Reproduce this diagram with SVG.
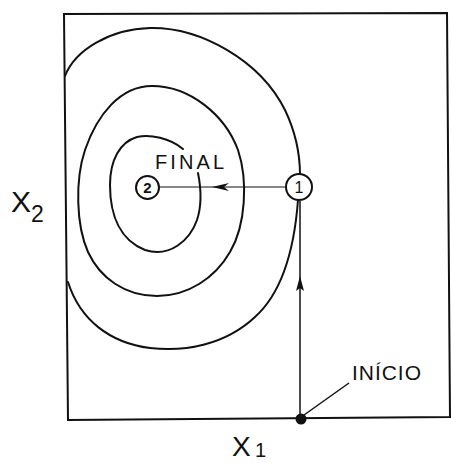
<svg xmlns="http://www.w3.org/2000/svg" width="451" height="463" viewBox="0 0 451 463">
<style>
.c{fill:none;stroke:#111;stroke-width:2;stroke-linecap:round}
.t{font-family:"Liberation Sans",Arial,sans-serif;fill:#111}
.ln{stroke:#111;fill:none}
</style>
<rect x="0" y="0" width="451" height="463" fill="#fff"/>
<g id="frame"><path class="c" d="M64,14 L447,13 L450,417 L68,420 Z"/></g>
<g id="contours">
<path class="c" d="M65,76 C75,50 110,29 150,28 C200,27 260,60 285,110 C297,135 300,160 300,175"/>
<path class="c" d="M298,200 C295,240 285,290 255,317 C225,345 185,352 150,348 C110,343 80,320 68,282"/>
<path class="c" d="M152,86 C190,86 225,115 238,150 C248,180 246,225 230,252 C215,278 188,296 157,296 C125,296 100,278 88,252 C76,225 75,180 85,150 C97,115 120,86 152,86 Z"/>
<path class="c" d="M183,149 C170,138 150,134 137,137 C120,142 110,160 110,185 C110,215 120,240 145,250 C170,258 190,240 197,220 C202,205 201,188 198,173"/>
</g>
<g id="connectors">
<line class="ln" x1="159" y1="187" x2="285" y2="187" stroke-width="1.2"/>
<path d="M212,187 L229,183 L224,187 L229,191 Z" fill="#111"/>
<line class="ln" x1="300" y1="419" x2="300" y2="201" stroke-width="1.5"/>
<path d="M300,276 L304,291 L300,288 L296,291 Z" fill="#111"/>
<line class="ln" x1="349" y1="383" x2="304" y2="415" stroke-width="1.5"/>
</g>
<g id="p1"><circle cx="299" cy="187" r="13" fill="#fff" stroke="#111" stroke-width="2"/><text class="t" x="299" y="193" font-size="16" text-anchor="middle">1</text></g>
<g id="p2"><circle cx="147.5" cy="187.5" r="11.5" fill="#fff" stroke="#111" stroke-width="2"/><text class="t" x="147.5" y="193" font-size="15" font-weight="bold" text-anchor="middle">2</text></g>
<g id="start"><circle cx="301" cy="419" r="5.5" fill="#111"/></g>
<text class="t" x="155" y="169" font-size="20" textLength="69" lengthAdjust="spacing">FINAL</text>
<text class="t" x="352" y="380" font-size="21" textLength="69" lengthAdjust="spacing">INÍCIO</text>
<text class="t" x="11" y="212" font-size="30">X</text>
<text class="t" x="31" y="222" font-size="23">2</text>
<text class="t" x="232" y="456" font-size="28">X</text>
<text class="t" x="255" y="457" font-size="20">1</text>
</svg>
